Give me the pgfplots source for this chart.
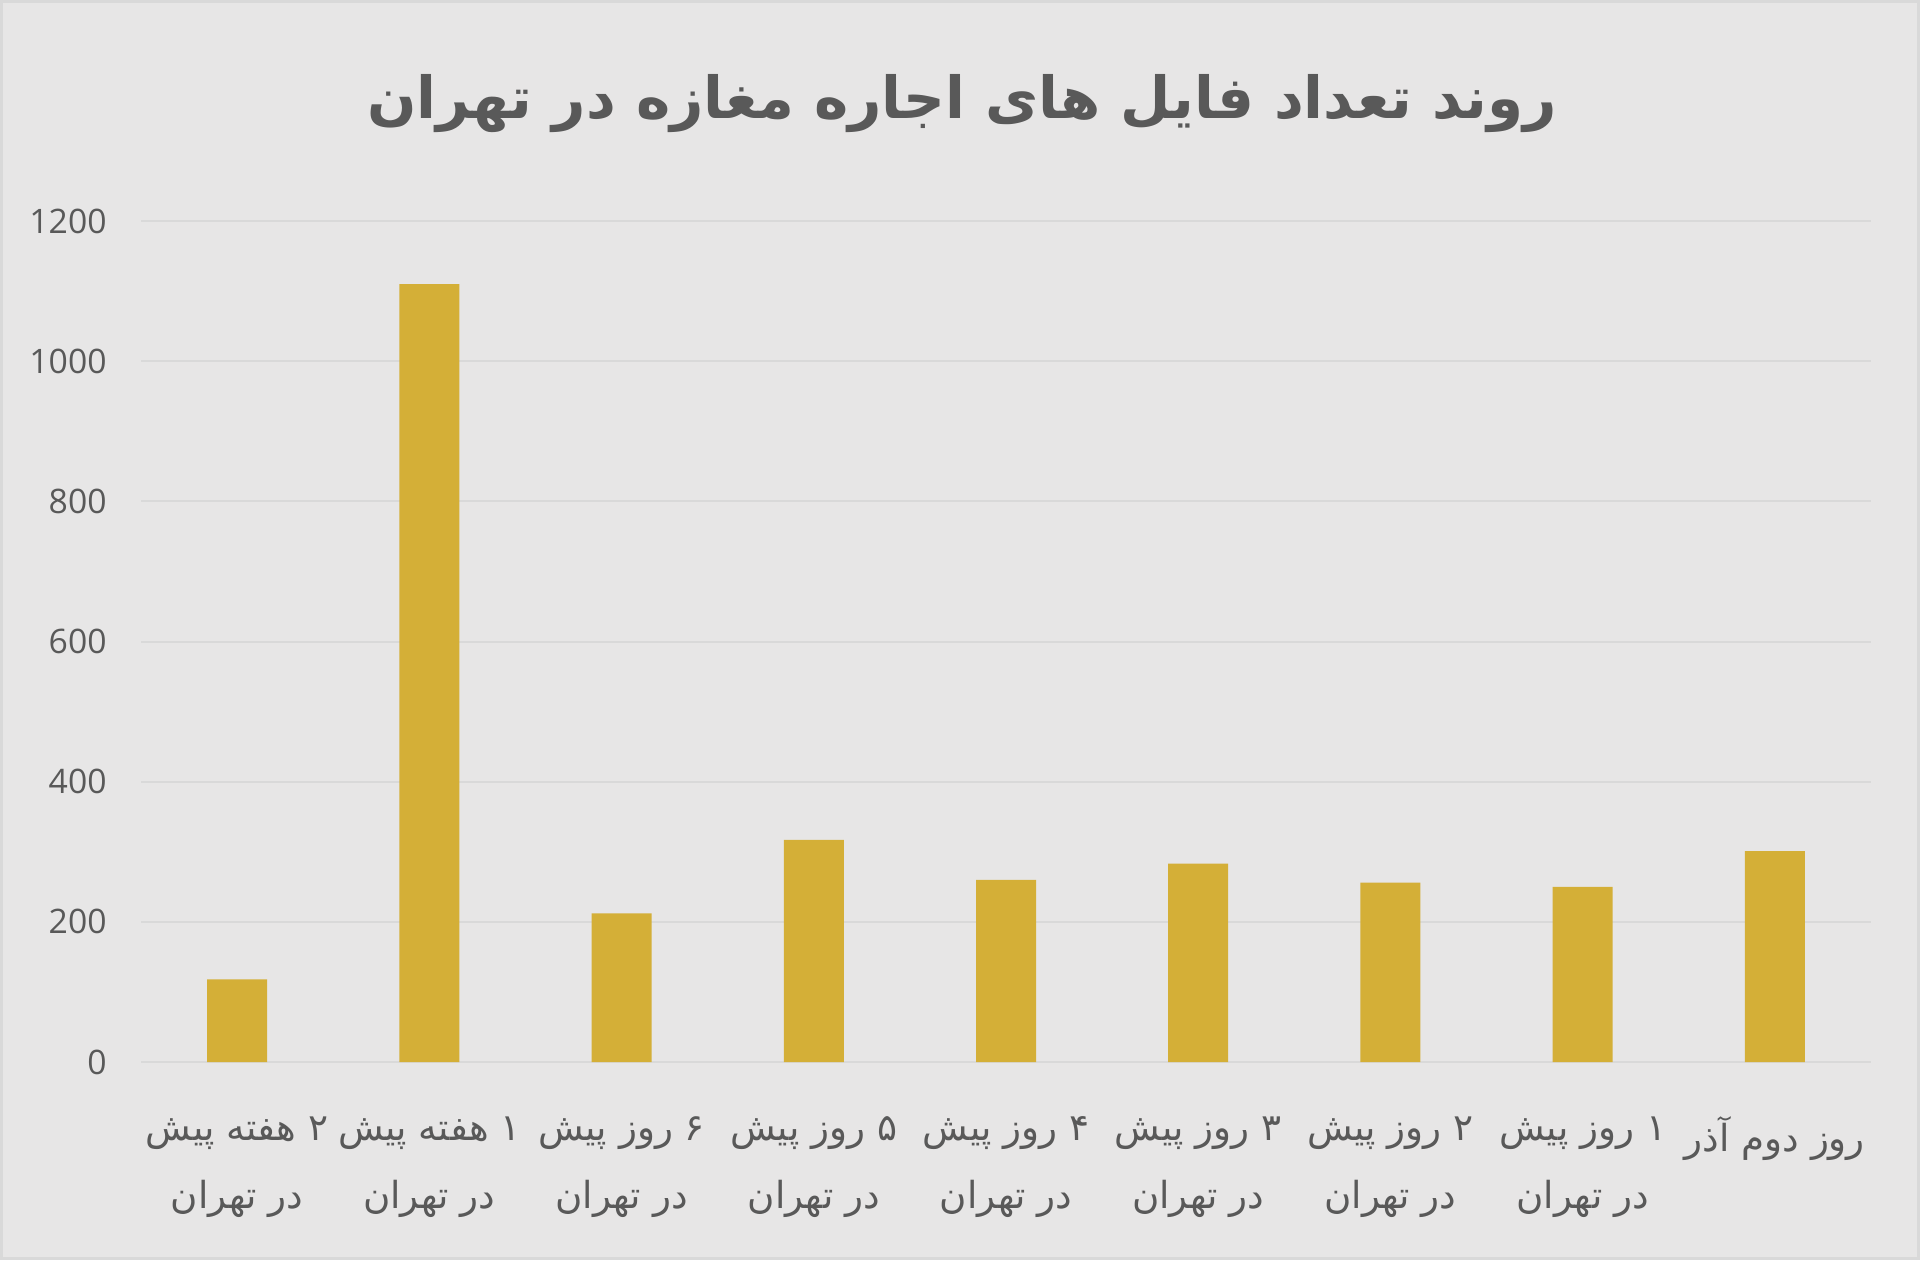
\documentclass[border=0pt]{standalone}
\usepackage{pgfplots}
\pgfplotsset{compat=1.18}
\usepackage{fontspec}
\setmainfont{Open Sans}
\newfontfamily\fa[Script=Arabic]{DejaVu Sans}
\TeXXeTstate=1
\definecolor{bg}{RGB}{231,230,230}
\definecolor{barc}{RGB}{212,175,55}
\definecolor{txt}{RGB}{89,89,89}
\definecolor{gridc}{RGB}{217,217,217}

\begin{document}
\begin{tikzpicture}
\useasboundingbox (0,0) rectangle (192mm,126mm);
\fill[bg] (0,0) rectangle (192mm,126mm);
\draw[gridc, line width=0.3mm] (0.15mm,0.15mm) rectangle (191.85mm,125.85mm);
\begin{axis}[
    at={(14.1mm,19.8mm)}, anchor=south west,
    scale only axis,
    width=173mm, height=84.1mm,
    xmin=-0.5, xmax=8.5,
    ymin=0, ymax=1200,
    ytick={0,200,...,1200},
    xtick=data,
    xticklabels={
        {\beginR\hbox{۲}\ هفته پیش\endR\\\beginR در تهران\endR},
        {\beginR\hbox{۱}\ هفته پیش\endR\\\beginR در تهران\endR},
        {\beginR\hbox{۶}\ روز پیش\endR\\\beginR در تهران\endR},
        {\beginR\hbox{۵}\ روز پیش\endR\\\beginR در تهران\endR},
        {\beginR\hbox{۴}\ روز پیش\endR\\\beginR در تهران\endR},
        {\beginR\hbox{۳}\ روز پیش\endR\\\beginR در تهران\endR},
        {\beginR\hbox{۲}\ روز پیش\endR\\\beginR در تهران\endR},
        {\beginR\hbox{۱}\ روز پیش\endR\\\beginR در تهران\endR},
        {\beginR روز دوم آذر\endR}
    },
    xticklabel style={align=center, font=\fa\fontsize{10.6}{19.5}\selectfont, text=txt, yshift=-4.2mm},
    yticklabel style={font=\fontsize{9.6}{12}\selectfont, text=txt, xshift=-2.2mm},
    /pgf/number format/assume math mode=true,
    /pgf/number format/1000 sep={},
    ymajorgrids,
    grid style={gridc, line width=0.2mm},
    axis line style={draw=none},
    major tick length=0pt,
]
\addplot[ybar, bar width=6mm, fill=barc, draw=none] coordinates {
    (0,118) (1,1110) (2,212) (3,317) (4,260) (5,283) (6,256) (7,250) (8,301)
};
\end{axis}
\node[text=txt, font=\fa\bfseries\fontsize{16.5}{20}\selectfont] at (96.2mm,115.6mm)
    {\beginR روند تعداد فایل های اجاره مغازه در تهران\endR};
\end{tikzpicture}
\end{document}
